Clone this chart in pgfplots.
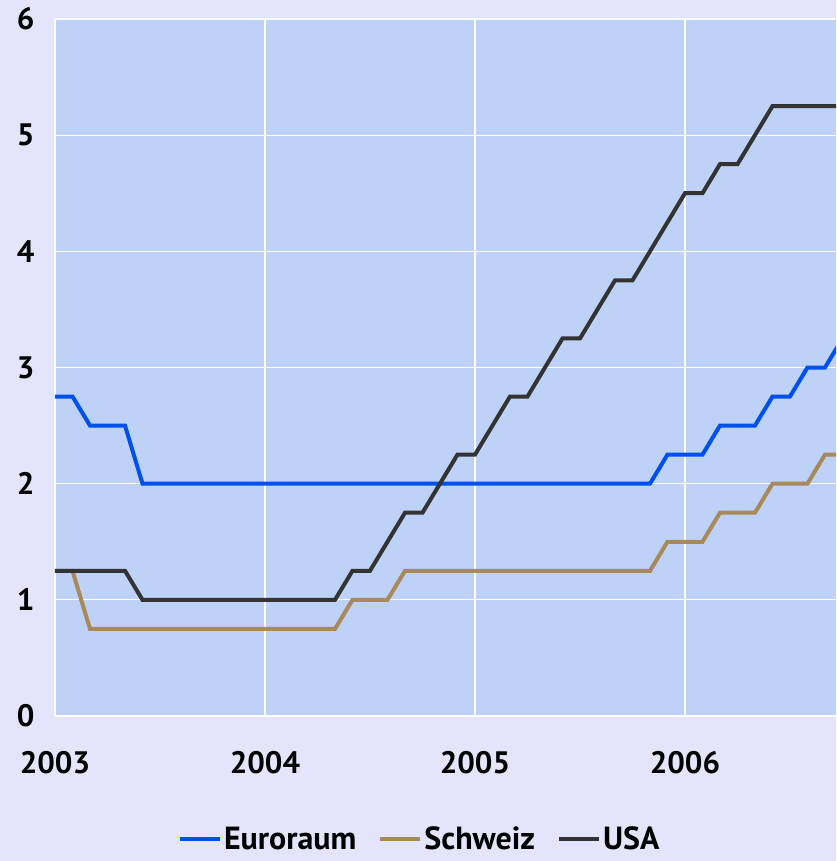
\documentclass[border=0pt]{standalone}
\usepackage{fontspec}
\setmainfont{PT Sans}
\usepackage{pgfplots}
\usepackage{pgfplotstable}
\pgfplotsset{compat=1.18}
\definecolor{bgcol}{HTML}{E4E4FC}
\definecolor{plotcol}{HTML}{BED2F7}
\definecolor{euroblue}{HTML}{0050EB}
\definecolor{chtan}{HTML}{A88A5A}
\definecolor{usgray}{HTML}{333333}

% month index: 0 = Jan 2003
\pgfplotstableread{
m rate
0 2.75
1 2.75
2 2.5
3 2.5
4 2.5
5 2.0
34 2.0
35 2.25
36 2.25
37 2.25
38 2.5
39 2.5
40 2.5
41 2.75
42 2.75
43 3.0
44 3.0
45 3.25
}\euro

\pgfplotstableread{
m rate
0 1.25
1 1.25
2 0.75
16 0.75
17 1.0
18 1.0
19 1.0
20 1.25
34 1.25
35 1.5
36 1.5
37 1.5
38 1.75
39 1.75
40 1.75
41 2.0
42 2.0
43 2.0
44 2.25
45 2.25
}\schweiz

\pgfplotstableread{
m rate
0 1.25
4 1.25
5 1.0
16 1.0
17 1.25
18 1.25
19 1.5
20 1.75
21 1.75
22 2.0
23 2.25
24 2.25
25 2.5
26 2.75
27 2.75
28 3.0
29 3.25
30 3.25
31 3.5
32 3.75
33 3.75
34 4.0
35 4.25
36 4.5
37 4.5
38 4.75
39 4.75
40 5.0
41 5.25
45 5.25
}\usa

\begin{document}
\begin{tikzpicture}
\fill[bgcol] (-55pt,-145pt) rectangle (781pt,716pt);
\begin{axis}[
    at={(0,0)}, anchor=south west,
    width=781pt, height=697pt, scale only axis,
    xmin=0, xmax=44.63,
    ymin=0, ymax=6,
    xtick={0,12,24,36},
    xticklabels={2003,2004,2005,2006},
    ytick={0,1,2,3,4,5,6},
    axis background/.style={fill=plotcol},
    axis line style={draw=none},
    major tick length=0pt,
    grid=major,
    major grid style={white, line width=1.3pt},
    /pgf/number format/assume math mode=true,
    tick label style={font=\bfseries\fontsize{31}{34}\selectfont},
    yticklabel style={anchor=east, xshift=-17pt},
    xticklabel style={anchor=north, yshift=-32pt},
    legend style={
        at={(axis description cs:0.467,-0.176)}, anchor=center,
        draw=none, fill=none, inner sep=0pt,
        nodes={inner ysep=1pt},
        font=\bfseries\fontsize{32}{35}\selectfont,
        /tikz/every even column/.append style={column sep=20pt}
    },
    legend columns=-1,
    legend cell align=left,
    legend image code/.code={\draw[#1] (0pt,0pt) -- (40pt,0pt);},
    every axis plot/.append style={line width=4pt, line join=miter},
]
\addplot[color=euroblue] table[x=m, y=rate] {\euro};
\addlegendentry{Euroraum}
\addplot[color=chtan] table[x=m, y=rate] {\schweiz};
\addlegendentry{Schweiz}
\addplot[color=usgray] table[x=m, y=rate] {\usa};
\addlegendentry{USA}
\end{axis}
\pgfresetboundingbox
\useasboundingbox (-55pt,-145pt) rectangle (781pt,716pt);
\end{tikzpicture}
\end{document}
